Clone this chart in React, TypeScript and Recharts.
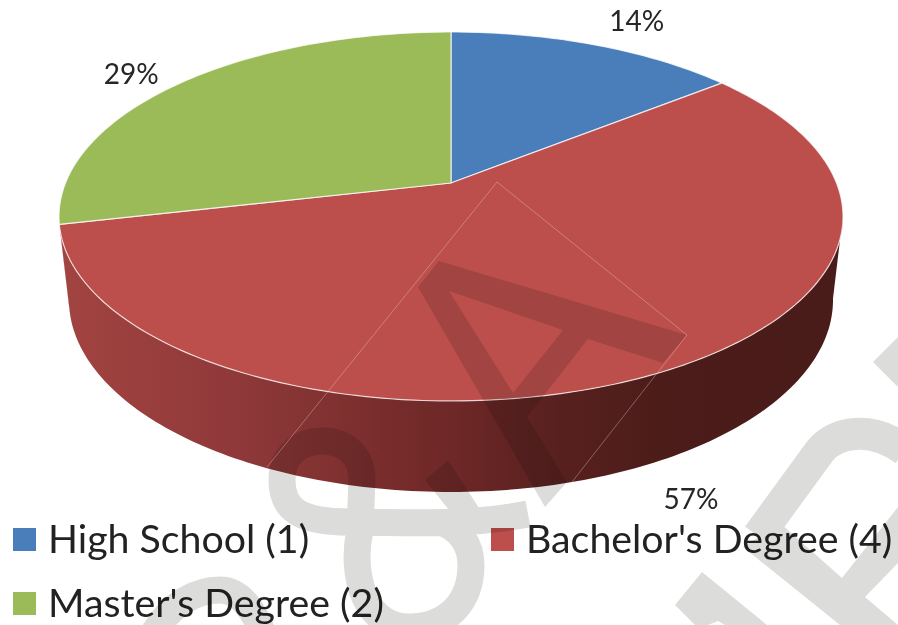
import { PieChart, Pie, Legend } from 'recharts'

const categories = ['High School (1)', "Bachelor's Degree (4)", "Master's Degree (2)"]
const counts = [1, 4, 2]
const colors = ['#4a7ebb', '#bc4f4b', '#9bbb59']

const data = categories.map((name, i) => ({ name, value: counts[i], fill: colors[i] }))
const total = counts.reduce((a, b) => a + b, 0)

// where each percent label sits relative to the middle of its slice rim
const labelOffsets = [
  [42, -25],
  [40, 123],
  [-49, -10],
]
const legendSpots = [
  { left: 13, top: 0 },
  { left: 491, top: 0 },
  { left: 13, top: 64 },
]

// perspective of the tilted disc
const TILT = -0.1815
const FLAT = 0.4628
// lower rim of the wall, as an ellipse mapped from the upper one
const RIM = { dy: 33.5, rx: 392, ry: 184.5 }
const BASE = { dy: 117, rx: 382, ry: 192 }

function rim(cx: number, cy: number, r: number, deg: number) {
  const t = (deg * Math.PI) / 180
  const d = 1 - TILT * Math.cos(t)
  return {
    x: cx + (r * Math.sin(t)) / d,
    y: cy - (r * FLAT * Math.cos(t)) / d,
  }
}

function base(cx: number, cy: number, r: number, deg: number) {
  const p = rim(cx, cy, r, deg)
  const nx = (p.x - cx) / RIM.rx
  const ny = (p.y - cy - RIM.dy) / RIM.ry
  return { x: cx + BASE.rx * nx, y: cy + BASE.dy + BASE.ry * ny }
}

function range(from: number, to: number) {
  const out: number[] = []
  for (let a = from; a < to; a += 1) out.push(a)
  out.push(to)
  return out
}

function TopSlice(props: any) {
  const { cx, cy, outerRadius, startAngle, endAngle, fill } = props
  const pts = range(90 - startAngle, 90 - endAngle).map((a) => rim(cx, cy, outerRadius, a))
  const d = `M${cx},${cy} ` + pts.map((p) => `L${p.x},${p.y}`).join(' ') + ' Z'
  return <path d={d} fill={fill} stroke="#fff" strokeOpacity={0.75} strokeWidth={1.2} strokeLinejoin="round" />
}

function WallSlice(props: any) {
  const { cx, cy, outerRadius, startAngle, endAngle, index } = props
  const from = Math.max(90 - startAngle, 100)
  const to = Math.min(90 - endAngle, 258)
  if (to <= from) return <g />
  const top = range(from, to).map((a) => rim(cx, cy, outerRadius, a))
  const bottom = range(from, to).reverse().map((a) => base(cx, cy, outerRadius, a))
  const d = 'M' + [...top, ...bottom].map((p) => `${p.x},${p.y}`).join(' L') + ' Z'
  return (
    <g>
      <defs>
        <linearGradient id={`wall-${index}`} gradientUnits="userSpaceOnUse" x1="59" y1="0" x2="843" y2="0">
          <stop offset="0%" stopColor="#a24441" />
          <stop offset="22%" stopColor="#90393a" />
          <stop offset="38%" stopColor="#7c2f2e" />
          <stop offset="50%" stopColor="#6e2827" />
          <stop offset="64%" stopColor="#57201f" />
          <stop offset="78%" stopColor="#4b1c19" />
          <stop offset="100%" stopColor="#4a1c19" />
        </linearGradient>
      </defs>
      <path d={d} fill={`url(#wall-${index})`} />
    </g>
  )
}

function PercentLabel(props: any) {
  const { cx, cy, outerRadius, midAngle, index, value } = props
  const p = rim(cx, cy, outerRadius, 90 - midAngle)
  const [dx, dy] = labelOffsets[index]
  return (
    <text
      x={p.x + dx}
      y={p.y + dy}
      textAnchor="middle"
      dominantBaseline="central"
      fontFamily="Lato"
      fontSize={28}
      fill="#262626"
    >
      {Math.round((value / total) * 100)}%
    </text>
  )
}

function LegendItems({ payload }: any) {
  const items = (payload || []).filter((item: any) => item.type !== 'none')
  return (
    <div style={{ position: 'relative', height: 105 }}>
      {items.map((item: any, i: number) => (
        <div
          key={item.value}
          style={{ position: 'absolute', ...legendSpots[i], display: 'flex', alignItems: 'center', height: 44, whiteSpace: 'nowrap' }}
        >
          <span style={{ width: 23, height: 23, background: item.payload?.fill ?? item.color, marginRight: 12 }} />
          <span style={{ fontFamily: 'Lato', fontSize: 39.3, color: '#222', marginTop: -4 }}>{item.value}</span>
        </div>
      ))}
    </div>
  )
}

// grey watermark laid over the whole page
function Watermark() {
  return (
    <svg
      width={898}
      height={625}
      style={{ position: 'absolute', left: 0, top: 0, mixBlendMode: 'multiply', pointerEvents: 'none' }}
    >
      <g fill="#dcdcdb" stroke="none">
        <polygon points="439,261 687,335 663,363 588,339 527,417 567,482 545,507 418,287" />
        <polygon points="449,291 563,330 513,393" fill="#fff" />
        <polygon points="425,480 448,460 490,525 465,530" />
        <polygon points="873,362 898,337 898,387" />
        <polygon points="702,572 767,625 725,625 718,621 708,625 695,625 675,605" />
        <polygon points="743,547 780,523 842,578 898,507 898,563 865,597 898,625 840,625" />
      </g>
      <g fill="none" stroke="#dcdcdb" strokeWidth={27}>
        <path d="M528,514 C470,525 420,523 350,522 C300,522 282,510 282,480 C282,455 300,441 322,441 C345,441 362,455 362,480 L360,530 C350,575 365,630 413,627 C450,625 471,600 471,565 C471,545 460,528 440,522" />
        <path d="M150,640 C170,600 200,590 220,590 C240,590 255,610 265,640" />
        <path d="M758,536 L820,451 C835,432 870,425 905,450" strokeWidth={32} />
      </g>
    </svg>
  )
}

export default function App() {
  return (
    <div style={{ position: 'absolute', left: 0, top: 0, width: 898, height: 625, background: '#fff', overflow: 'hidden' }}>
      <PieChart width={898} height={625} margin={{ top: 0, right: 0, bottom: 0, left: 0 }}>
        <Pie
          data={data}
          dataKey="value"
          nameKey="name"
          cx={451}
          cy={183}
          outerRadius={385.5}
          startAngle={90}
          endAngle={-270}
          shape={WallSlice}
          legendType="none"
          isAnimationActive={false}
        />
        <Pie
          data={data}
          dataKey="value"
          nameKey="name"
          cx={451}
          cy={183}
          outerRadius={385.5}
          startAngle={90}
          endAngle={-270}
          shape={TopSlice}
          label={PercentLabel}
          labelLine={false}
          isAnimationActive={false}
        />
        <Legend
          content={LegendItems}
          itemSorter={null}
          wrapperStyle={{ left: 0, top: 517, width: 898, bottom: 'auto' }}
        />
      </PieChart>
      <Watermark />
      <svg width={898} height={625} style={{ position: 'absolute', left: 0, top: 0, pointerEvents: 'none' }}>
        <polyline points="267,467 497,182 687,335 572,482" fill="none" stroke="#f0d8d4" strokeOpacity={0.45} strokeWidth={0.8} />
      </svg>
    </div>
  )
}
